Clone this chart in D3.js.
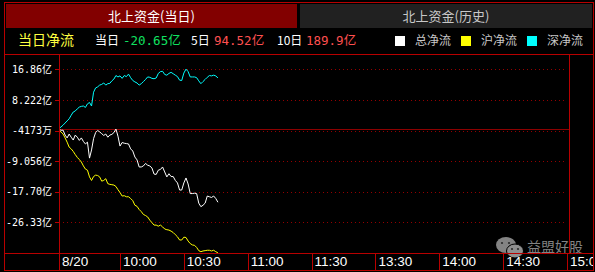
<!DOCTYPE html>
<html>
<head>
<meta charset="utf-8">
<script src="https://cdn.jsdelivr.net/npm/d3@7"></script>
<style>
body { margin: 0; background: #000; }
svg { display: block; }
.cjk { font-family: "Noto Sans CJK SC", sans-serif; }
.mono { font-family: "DejaVu Sans Mono", "Noto Sans CJK SC", monospace; }
</style>
</head>
<body>
<svg class="chart" width="595" height="272"></svg>
<script>
// one value per trading minute from 9:30, in 亿
var totalFlow = [0.0, -0.36, -0.3, -1.7, -2.5, -1.4, -2.3, -3.1, -1.7, -2.3,
    -3.2, -2.5, -3.5, -4.2, -3.7, -8.2, -5.9, -2.7, -1.0, -0.4,
    -0.8, -1.3, -1.8, -1.4, -2.3, -1.7, -1.5, -1.0, 0.0, -2.0,
    -4.8, -3.8, -4.0, -4.1, -4.2, -5.6, -6.2, -7.9, -8.7, -10.7,
    -10.7, -10.4, -9.7, -10.2, -10.4, -11.0, -12.7, -12.8, -11.6, -11.4,
    -10.7, -12.1, -13.5, -12.6, -13.4, -13.4, -14.5, -15.2, -17.2, -17.2,
    -15.2, -13.8, -15.5, -18.2, -18.2, -18.1, -18.2, -20.9, -21.9, -21.5,
    -20.9, -18.9, -19.1, -19.3, -18.9, -19.6, -20.65];
var shFlow = [-0.36, -0.84, -1.4, -2.5, -3.7, -5.1, -5.6, -6.3, -7.2, -8.0,
    -8.6, -9.3, -10.4, -11.3, -11.6, -13.5, -14.5, -13.4, -13.0, -13.1,
    -13.5, -14.7, -14.5, -14.0, -15.4, -15.6, -15.7, -15.8, -16.2, -17.1,
    -17.9, -18.9, -18.8, -19.1, -19.1, -19.6, -20.2, -21.5, -21.8, -22.7,
    -23.3, -24.1, -24.4, -24.8, -25.7, -26.4, -27.1, -27.1, -27.4, -27.1,
    -27.6, -28.2, -28.4, -28.5, -28.8, -29.2, -29.8, -30.4, -31.3, -31.3,
    -30.5, -30.6, -31.6, -32.3, -32.7, -32.8, -33.4, -34.3, -34.6, -34.4,
    -34.3, -34.2, -34.2, -34.4, -34.2, -34.6, -34.9];
var szFlow = [0.1, 0.6, 1.1, 1.7, 2.3, 2.9, 3.9, 4.8, 5.1, 5.7,
    6.2, 6.4, 6.5, 6.1, 7.1, 7.5, 6.5, 10.4, 11.6, 11.9,
    12.4, 12.6, 13.0, 12.4, 12.8, 12.9, 13.6, 14.1, 15.1, 14.7,
    15.0, 14.3, 15.1, 14.8, 15.5, 14.5, 13.7, 13.3, 13.0, 12.4,
    12.8, 13.4, 14.0, 14.7, 14.6, 14.3, 14.2, 14.4, 15.7, 16.2,
    16.3, 15.4, 15.2, 15.7, 16.0, 15.6, 15.2, 14.8, 13.8, 13.7,
    15.8, 16.9, 16.2, 14.7, 14.7, 14.7, 14.5, 13.6, 12.8, 13.4,
    14.0, 14.6, 15.1, 15.0, 15.2, 15.0, 14.4];

var yTickValues = [16.86, 8.222, -0.4173, -9.056, -17.70, -26.33];
var yTickLabels = ["16.86亿", "8.222亿", "-4173万", "-9.056亿", "-17.70亿", "-26.33亿"];
var xTickMinutes = [0, 30, 60, 90, 120, 150, 180, 210, 240];
var xTickLabels = ["8/20", "10:00", "10:30", "11:00", "11:30", "13:30", "14:00", "14:30", "15:00"];

var tabTitles = ["北上资金(当日)", "北上资金(历史)"];
var summaryLabels = ["当日", "5日", "10日"];
var summaryValues = ["-20.65亿", "94.52亿", "189.9亿"];
var legendNames = ["总净流", "沪净流", "深净流"];
var legendColors = ["#ffffff", "#ffff00", "#00ffff"];

var svg = d3.select("svg.chart"),
    left = 59, right = 569, top = 54, bottom = 253;

var red = "#b80000", darkRed = "#950000";

var x = d3.scaleLinear().domain([0, 30, 240]).range([59, 120, 567]);
var y = d3.scaleLinear().domain([-34.97, 21.74]).range([bottom, 52]);

// header tabs
svg.append("rect").attr("x", 6).attr("y", 4).attr("width", 291).attr("height", 24).attr("fill", "#820000");
svg.append("rect").attr("x", 300).attr("y", 4).attr("width", 292).attr("height", 24).attr("fill", "#212121");
svg.selectAll(".tab-title")
    .data(tabTitles)
    .enter().append("text")
        .attr("class", "tab-title cjk")
        .attr("x", function(d, i) { return i === 0 ? 151.5 : 446; })
        .attr("y", 16)
        .attr("dy", "0.35em")
        .attr("text-anchor", "middle")
        .attr("font-size", 13)
        .attr("fill", function(d, i) { return i === 0 ? "#ffffff" : "#c8c8c8"; })
        .text(function(d) { return d; });

// summary row
svg.append("text").attr("class", "cjk").attr("x", 18).attr("y", 40).attr("dy", "0.35em")
    .attr("font-size", 14).attr("fill", "#ffff40").text("当日净流");

var summaryX = [95, 191, 277], summaryValueX = [123, 214, 306];
summaryLabels.forEach(function(s, i) {
    svg.append("text").attr("class", "cjk").attr("x", summaryX[i]).attr("y", 41).attr("dy", "0.35em")
        .attr("font-size", 12).attr("fill", "#ffffff").text(s);
    svg.append("text").attr("class", "mono").attr("x", summaryValueX[i]).attr("y", 41).attr("dy", "0.35em")
        .attr("font-size", 12.5).attr("fill", summaryValues[i][0] === "-" ? "#10e060" : "#ff5050")
        .text(summaryValues[i]);
});

var legendX = [395, 461, 527];
legendNames.forEach(function(n, i) {
    svg.append("rect").attr("x", legendX[i]).attr("y", 36).attr("width", 10).attr("height", 10)
        .attr("fill", legendColors[i]);
    svg.append("text").attr("class", "cjk").attr("x", legendX[i] + 20).attr("y", 41).attr("dy", "0.35em")
        .attr("font-size", 12).attr("fill", "#c8c8c8").text(n);
});

// grid
var plot = svg.append("g");

plot.append("g")
    .attr("transform", "translate(" + left + ",0)")
    .call(d3.axisLeft(y).tickValues(yTickValues).tickSize(-(567 - left)).tickFormat(""))
    .call(function(g) {
        g.select(".domain").remove();
        g.selectAll("line").attr("stroke", darkRed).attr("stroke-dasharray", "1,3")
            .attr("shape-rendering", "crispEdges");
    });

plot.append("g")
    .attr("transform", "translate(0," + bottom + ")")
    .call(d3.axisBottom(x).tickValues(xTickMinutes.slice(1)).tickSize(-(bottom - top)).tickFormat(""))
    .call(function(g) {
        g.select(".domain").remove();
        g.selectAll("line").attr("stroke", darkRed).attr("stroke-dasharray", "1,3")
            .attr("shape-rendering", "crispEdges");
    });

// zero line
plot.append("line")
    .attr("x1", left).attr("x2", right)
    .attr("y1", Math.round(y(0)) + 0.5).attr("y2", Math.round(y(0)) + 0.5)
    .attr("stroke", "#8c0000")
    .attr("shape-rendering", "crispEdges");

// series
var line = d3.line()
    .x(function(d, i) { return x(i); })
    .y(function(d) { return y(d); });

[[totalFlow, "#ffffff"], [shFlow, "#ffff00"], [szFlow, "#00ffff"]].forEach(function(s) {
    plot.append("path")
        .datum(s[0])
        .attr("d", line)
        .attr("fill", "none")
        .attr("stroke", s[1])
        .attr("stroke-width", 1);
});

// watermark
var wm = svg.append("g").attr("opacity", 0.85);
wm.append("ellipse").attr("cx", 506).attr("cy", 245).attr("rx", 10).attr("ry", 8).attr("fill", "#9a9a9a");
wm.append("ellipse").attr("cx", 515).attr("cy", 251).attr("rx", 8.5).attr("ry", 7).attr("fill", "#a8a8a8")
    .attr("stroke", "#000").attr("stroke-width", 1);
[[502, 243], [509, 243], [512, 249], [518, 249]].forEach(function(p) {
    wm.append("circle").attr("cx", p[0]).attr("cy", p[1]).attr("r", 1.1).attr("fill", "#333");
});
wm.append("text").attr("class", "cjk").attr("x", 527).attr("y", 247).attr("dy", "0.35em")
    .attr("font-size", 14).attr("fill", "#9a9a9a").text("益盟好股");

// y axis labels and ticks
svg.append("g")
    .attr("transform", "translate(" + left + ",0)")
    .call(d3.axisLeft(y).tickValues(yTickValues).tickSize(4).tickPadding(3)
        .tickFormat(function(d, i) { return yTickLabels[i]; }))
    .call(function(g) {
        g.select(".domain").remove();
        g.selectAll("line").attr("stroke", red).attr("shape-rendering", "crispEdges");
        g.selectAll("text").attr("class", "mono").attr("font-size", 10).attr("fill", "#ffffff")
            .attr("font-family", null);
    });

// x axis band
svg.append("g")
    .attr("transform", "translate(0," + bottom + ")")
    .call(d3.axisBottom(x).tickValues(xTickMinutes).tickSize(17).tickPadding(0)
        .tickFormat(function(d, i) { return xTickLabels[i]; }))
    .call(function(g) {
        g.select(".domain").remove();
        g.selectAll("line").attr("stroke", red).attr("shape-rendering", "crispEdges");
        g.selectAll("text")
            .attr("text-anchor", "start")
            .attr("x", 2.5).attr("y", 13).attr("dy", null)
            .attr("font-family", "Liberation Sans, Arial, sans-serif")
            .attr("font-size", 13.5)
            .attr("fill", "#ffffff");
    });

// frame lines
var frame = svg.append("g").attr("stroke", red).attr("fill", "none").attr("shape-rendering", "crispEdges");
frame.append("rect").attr("x", 4.5).attr("y", 2.5).attr("width", 588.5).attr("height", 267.5);
frame.append("line").attr("x1", 4).attr("x2", 593).attr("y1", 54.5).attr("y2", 54.5);
frame.append("line").attr("x1", 4).attr("x2", 593).attr("y1", bottom + 0.5).attr("y2", bottom + 0.5);
frame.append("line").attr("x1", left + 0.5).attr("x2", left + 0.5).attr("y1", 54).attr("y2", 270);
frame.append("line").attr("x1", right + 0.5).attr("x2", right + 0.5).attr("y1", 54).attr("y2", bottom);
svg.append("rect").attr("x", 594).attr("y", 0).attr("width", 1).attr("height", 272).attr("fill", "#000");
</script>
</body>
</html>
